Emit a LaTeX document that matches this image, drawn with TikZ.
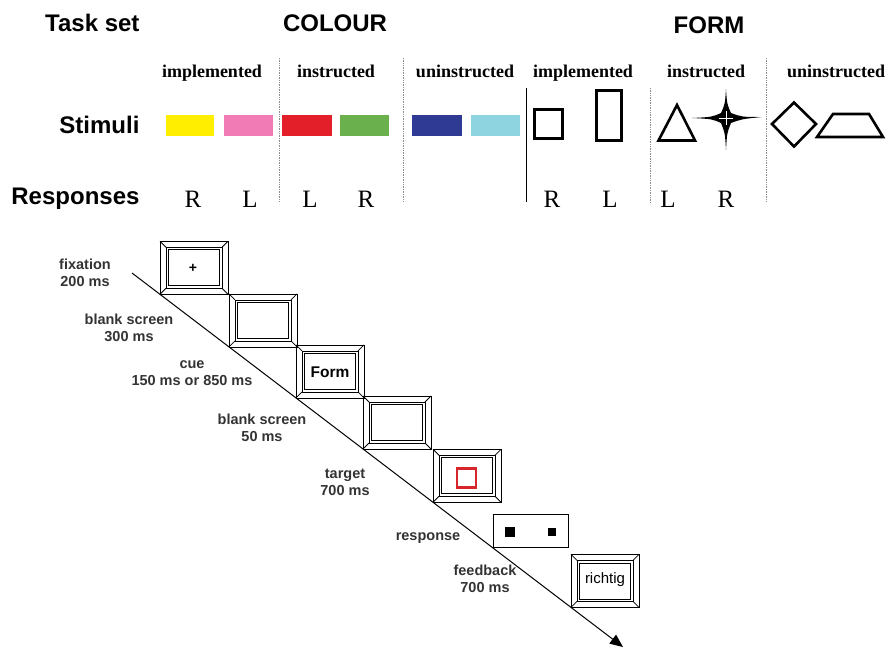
\documentclass[tikz,border=0pt]{standalone}
\usepackage{fontspec}
\setmainfont{Liberation Serif}
\setsansfont{Liberation Sans}
\usetikzlibrary{arrows.meta}

\definecolor{stimyellow}{HTML}{FFEE00}
\definecolor{stimpink}{HTML}{F07BB5}
\definecolor{stimred}{HTML}{E3202A}
\definecolor{stimgreen}{HTML}{6AB04C}
\definecolor{stimblue}{HTML}{2E3A93}
\definecolor{stimcyan}{HTML}{8DD3E0}
\definecolor{targetred}{HTML}{D7262B}

\tikzset{
  monitor/.pic={
    \draw (0,0) rectangle (68,53);
    \draw (6,6) rectangle (62,47);
    \draw (8.5,8.5) rectangle (59.5,44.5);
    \foreach \cx/\cy/\ix/\iy in {0/0/6/6, 68/0/62/6, 0/53/6/47, 68/53/62/47}
      \draw (\cx,\cy) -- (\ix,\iy);
  }
}

\begin{document}
\begin{tikzpicture}[x=1pt,y=-1pt,
    header/.style={font=\sffamily\bfseries\fontsize{24}{28}\selectfont, anchor=base},
    rowlabel/.style={header, anchor=base east},
    condition/.style={font=\bfseries\fontsize{18}{21}\selectfont, anchor=base},
    resp/.style={font=\fontsize{25}{28}\selectfont, anchor=base},
    divider/.style={densely dotted, black!45, line width=0.7pt},
    shapeline/.style={line width=2.6pt},
    timelabel/.style={font=\sffamily\bfseries\fontsize{14.5}{17}\selectfont, align=center, text=black!80},
    every pic/.style={line width=0.8pt}
  ]
  \useasboundingbox (0,0) rectangle (888,648);

  % task set header
  \node[rowlabel] (taskset) at (143,31) {Task set};
  \node[header] (colour) at (335,31) {COLOUR};
  \node[header] (form) at (709,33) {FORM};
  \node[rowlabel] (stimuli) at (143,133) {Stimuli};
  \node[rowlabel] (responses) at (143,204) {Responses};

  \foreach \x/\txt in {212/implemented, 336/instructed, 465/uninstructed,
                       583/implemented, 706/instructed, 836/uninstructed}
    \node[condition] at (\x,77) {\txt};

  % dividers
  \foreach \x/\ya in {279/58, 403/58, 650/88, 766/58}
    \draw[divider] (\x,\ya) -- (\x,202);
  \draw[line width=1pt] (526,88) -- (526,202);

  % colour stimuli
  \foreach \xa/\xb/\c in {166/214/stimyellow, 224/273/stimpink, 282/332/stimred,
                          340/389/stimgreen, 412/462/stimblue, 471/520/stimcyan}
    \fill[\c] (\xa,115) rectangle (\xb,136);

  % form stimuli
  \draw[shapeline] (534.5,109.5) rectangle (562.5,138.5);
  \draw[shapeline] (596.5,90.5) rectangle (621.5,140.5);
  \draw[shapeline] (658.5,140.5) -- (677,105) -- (695,140.5) -- cycle;
  \fill (692,118) .. controls (712,117) .. (721,113)
    .. controls (725,104) .. (726,89) .. controls (727,104) .. (731,113)
    .. controls (742,117) .. (762,117) .. controls (742,119) .. (731,123)
    .. controls (727,133) .. (726,150) .. controls (725,133) .. (721,123)
    .. controls (712,119) .. cycle;
  \draw[white, line width=1pt] (719,118) -- (733,118) (726,111) -- (726,125);
  \draw[shapeline] (794,102.5) -- (816,124) -- (794,146.5) -- (772,124) -- cycle;
  \draw[shapeline] (817,137) -- (833,114) -- (869,114) -- (883,137) -- cycle;

  % responses
  \foreach \x/\k in {193/R, 250/L, 310/L, 366/R, 552/R, 610/L, 668/L, 726/R}
    \node[resp] at (\x,207) {\k};

  % trial sequence
  \coordinate (tstart) at (132,273);
  \coordinate (tend) at (623,647);
  \draw[line width=1pt, -{Triangle[length=13pt,width=11pt]}] (tstart) -- (tend);

  \foreach \mx/\my in {160/241.3, 229/293.9, 296/344.9, 363/396, 433/449.3, 571/554.4}
    \pic at (\mx,\my) {monitor};

  \node[font=\sffamily\bfseries\fontsize{14}{16}\selectfont] (fixcross) at (193,268) {+};
  \node[font=\sffamily\bfseries\fontsize{15.5}{18}\selectfont] (cueword) at (330,372) {Form};
  \draw[targetred, line width=2.3pt] (457,468.5) rectangle (476,487.5);
  \node[draw, line width=0.8pt, minimum width=75pt, minimum height=33pt] (respbox) at (530.5,530.5) {};
  \fill (505,527) rectangle (515,537);
  \fill (548,528) rectangle (556,536);
  \node[font=\sffamily\fontsize{15}{18}\selectfont] (fbword) at (605,580) {richtig};

  \node[timelabel] (fixation) at (85,273) {fixation\\200 ms};
  \node[timelabel] (blank1) at (129,328) {blank screen\\300 ms};
  \node[timelabel] (cue) at (192,373) {cue\\150 ms or 850 ms};
  \node[timelabel] (blank2) at (262,428) {blank screen\\50 ms};
  \node[timelabel] (target) at (345,482) {target\\700 ms};
  \node[timelabel] (response) at (428,538) {response};
  \node[timelabel] (feedback) at (485,579) {feedback\\700 ms};
\end{tikzpicture}
\end{document}
